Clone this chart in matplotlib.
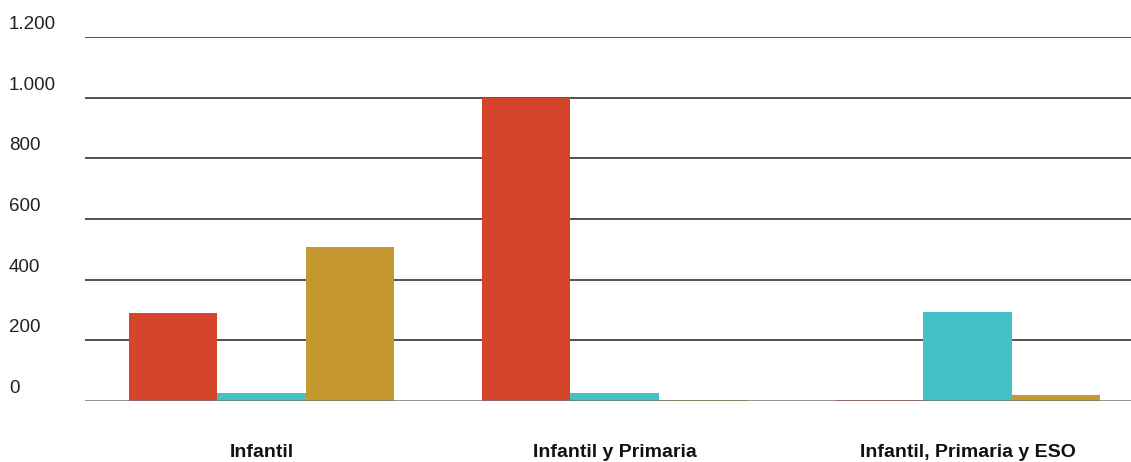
import matplotlib.pyplot as plt
import matplotlib.transforms as mtransforms
import numpy as np

categories = ['Infantil', 'Infantil y Primaria', 'Infantil, Primaria y ESO']
serie_a = [290, 1000, 3]
serie_b = [26, 26, 294]
serie_c = [508, 3, 19]
yticks = [0, 200, 400, 600, 800, 1000, 1200]
ytick_labels = ['0', '200', '400', '600', '800', '1.000', '1.200']

colors = ['#D4452B', '#44C1C7', '#C69930']

plt.rcParams['font.family'] = ['Liberation Sans', 'DejaVu Sans']

fig = plt.figure(figsize=(11.31, 4.62), dpi=100)
ax = fig.add_axes([85 / 1131, 61 / 462, 1046 / 1131, 364 / 462])

x = np.arange(len(categories))
w = 0.25
for i, (vals, c) in enumerate(zip([serie_a, serie_b, serie_c], colors)):
    ax.bar(x + (i - 1) * w, vals, width=w, color=c, zorder=3, linewidth=0)

ax.set_xlim(-0.5, 2.463)
ax.set_ylim(0, 1200)

for t in yticks:
    col = '#777777' if t == 0 else '#222222'
    ax.axhline(t, color=col, linewidth=1.1, zorder=2 if t else 4)

trans = mtransforms.blended_transform_factory(fig.transFigure, ax.transData)
trans = mtransforms.offset_copy(trans, fig=fig, y=8, units='dots')
for t, lab in zip(yticks, ytick_labels):
    ax.text(9 / 1131, t, lab, transform=trans, ha='left', va='baseline',
            fontsize=13.5, color='#222222', clip_on=False)

ax.set_xticks(x)
ax.set_xticklabels(categories, fontsize=14, fontweight='bold', color='#111111')
ax.tick_params(axis='x', length=0, pad=31)
ax.set_yticks([])
for s in ax.spines.values():
    s.set_visible(False)

fig.savefig('out.png', dpi=100)
